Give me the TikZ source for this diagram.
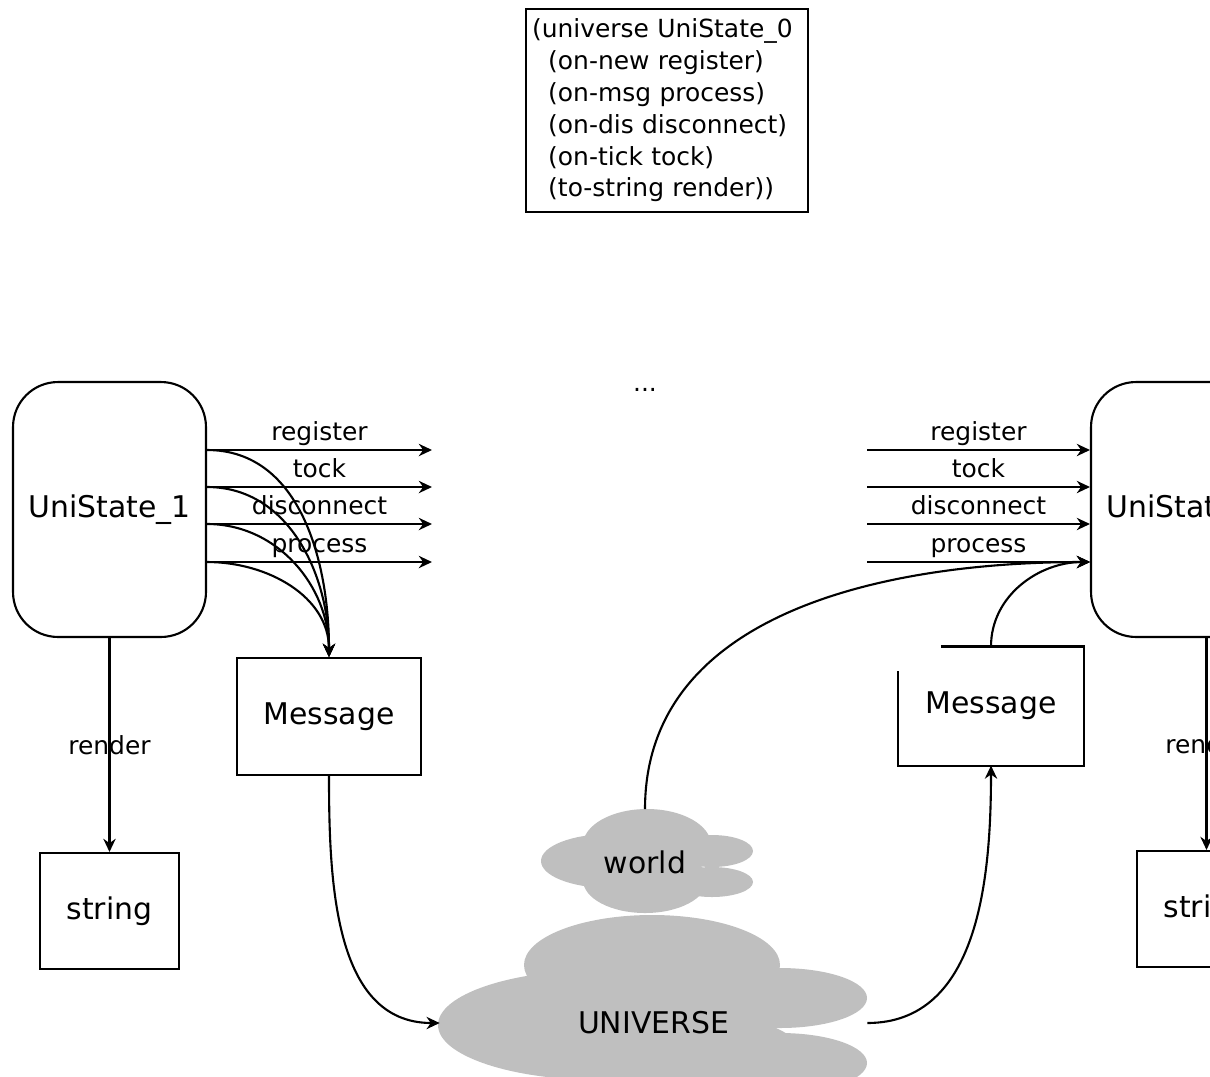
\documentclass[tikz,border=0pt]{standalone}
\usepackage{fontspec}
\setmainfont{DejaVu Sans}
\usetikzlibrary{arrows.meta, positioning}
\definecolor{cloudgray}{RGB}{191,191,191}

\begin{document}
\begin{tikzpicture}[x=0.02cm, y=-0.02cm,
        state/.style={rectangle, draw=black, line width=1.2pt, rounded corners=0.9cm, minimum width=3.86cm, minimum height=5.1cm, font=\fontsize{17}{20}\selectfont},
        msgbox/.style={rectangle, draw=black, line width=1.2pt, minimum width=3.68cm, minimum height=2.34cm, font=\fontsize{17}{20}\selectfont},
        strbox/.style={rectangle, draw=black, line width=1.2pt, minimum width=2.78cm, minimum height=2.32cm, font=\fontsize{17}{20}\selectfont},
        code/.style={rectangle, draw=black, line width=1.2pt, align=left, text width=5.4cm, inner xsep=0.12cm, minimum height=4.06cm, font=\fontsize{14.2}{18.1}\selectfont},
        lbl/.style={font=\fontsize{14.2}{17}\selectfont, inner sep=1pt},
        toplbl/.style={lbl, anchor=base, yshift=0.2cm},
        puff/.style={fill=cloudgray},
        arrow/.style={-{Stealth[length=7.5pt, width=7pt]}, line width=1.2pt}]

    \useasboundingbox (0,0) rectangle (1210,1076);
    \clip (0,0) rectangle (1210,1076);

    % clouds
    \fill [puff] (647,845) ellipse [x radius=64, y radius=36];
    \fill [puff] (645,880) ellipse [x radius=62, y radius=33];
    \fill [puff] (610,861) ellipse [x radius=69, y radius=27];
    \fill [puff] (712,851) ellipse [x radius=41, y radius=16];
    \fill [puff] (712,882) ellipse [x radius=41, y radius=15];
    \fill [puff] (652,965) ellipse [x radius=128, y radius=50];
    \fill [puff] (600,1025) ellipse [x radius=162, y radius=55];
    \fill [puff] (780,998) ellipse [x radius=87, y radius=30];
    \fill [puff] (780,1063) ellipse [x radius=87, y radius=30];
    \fill [puff] (680,1052) ellipse [x radius=120, y radius=40];

    \node (code) [code] at (667,110.5) {(universe UniState\_0\\
        \hspace*{0.65em}(on-new register)\\
        \hspace*{0.65em}(on-msg process)\\
        \hspace*{0.65em}(on-dis disconnect)\\
        \hspace*{0.65em}(on-tick tock)\\
        \hspace*{0.65em}(to-string render))};
    \node (dots) [lbl] at (645,390) {...};

    \node (uni1) [state] at (109.5,509.5) {UniState\_1};
    \node (uni2) [state] at (1187.5,509.5) {UniState\_2};
    \node (str1) [strbox, below=4.28cm of uni1] {string};
    \node (str2) [strbox] at (1206.5,909) {string};
    \node (msg1) [msgbox] at (329,716.5) {Message};
    \node (msg2) [msgbox, draw=none] at (991,706) {Message};
    \draw [line width=1.2pt] ([xshift=0.86cm]msg2.north west) -- (msg2.north east) -- (msg2.south east) -- (msg2.south west) -- ([yshift=1.9cm]msg2.south west);
    \node (world) [minimum width=4.24cm, minimum height=2.1cm, font=\fontsize{17}{20}\selectfont] at (645,862) {world};
    \node (universe) [minimum width=8.54cm, minimum height=2.2cm, font=\fontsize{17}{20}\selectfont] at (653.5,1023) {UNIVERSE};

    \coordinate (regout) at (432,450);
    \coordinate (tockout) at (432,487);
    \coordinate (disout) at (432,524);
    \coordinate (procout) at (432,562);
    \coordinate (regin) at (867,450);
    \coordinate (tockin) at (867,487);
    \coordinate (disin) at (867,524);
    \coordinate (procin) at (867,562);

    \draw [arrow] (uni1.east |- regout) -- node [toplbl] {register} (regout);
    \draw [arrow] (uni1.east |- tockout) -- node [toplbl] {tock} (tockout);
    \draw [arrow] (uni1.east |- disout) -- node [toplbl] {disconnect} (disout);
    \draw [arrow] (uni1.east |- procout) -- node [toplbl] {process} (procout);

    \draw [arrow] (uni1.east |- regout) to [out=0, in=90] (msg1.north);
    \draw [arrow] (uni1.east |- tockout) to [out=0, in=90] (msg1.north);
    \draw [arrow] (uni1.east |- disout) to [out=0, in=90] (msg1.north);
    \draw [arrow] (uni1.east |- procout) to [out=0, in=90] (msg1.north);

    \draw [arrow] (regin) -- node [toplbl] {register} (regin -| uni2.west);
    \draw [arrow] (tockin) -- node [toplbl] {tock} (tockin -| uni2.west);
    \draw [arrow] (disin) -- node [toplbl] {disconnect} (disin -| uni2.west);
    \draw [arrow] (procin) -- node [toplbl] {process} (procin -| uni2.west);

    \draw [arrow] (uni1.south) -- node [lbl] {render} (str1.north);
    \draw [arrow] (uni2.south -| str2.north) -- node [lbl] {render} (str2.north);

    \draw [arrow] (msg1.south) to [out=-90, in=180] (universe.west);
    \draw [arrow] (universe.east) to [out=0, in=-90] (msg2.south);
    \draw [arrow] (world.north) to [out=90, in=180] (procin -| uni2.west);
    \draw [arrow] (msg2.north) to [out=90, in=180] (procin -| uni2.west);
\end{tikzpicture}
\end{document}
